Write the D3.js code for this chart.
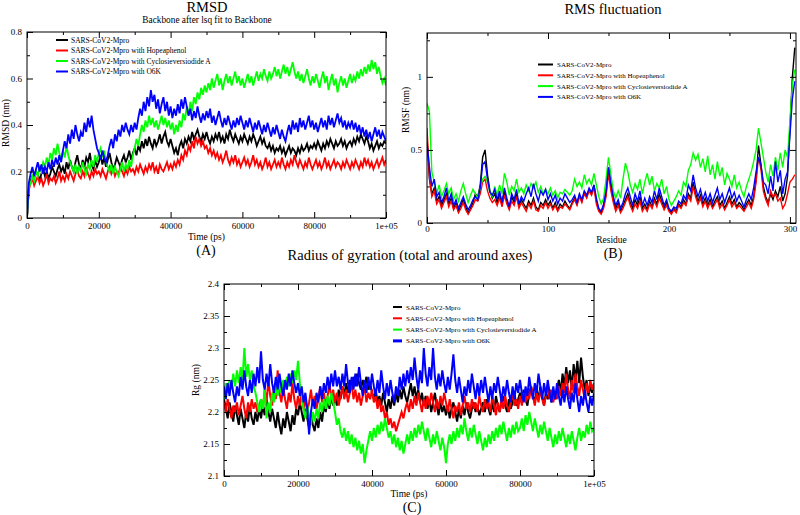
<!DOCTYPE html>
<html><head><meta charset="utf-8">
<script src="https://cdn.jsdelivr.net/npm/d3@7"></script>
<style>
body{margin:0;background:#fff}
text{font-family:'Liberation Serif','Times New Roman',serif !important;fill:#000}
</style>
</head><body>
<svg id="chart" width="800" height="515"></svg>
<script>
// ---------- shared ----------
const seriesNames = ["SARS-CoV2-Mpro","SARS-CoV2-Mpro with Hopeaphenol","SARS-CoV2-Mpro with Cyclosieversiodide A","SARS-CoV2-Mpro with O6K"];
const seriesColors = ["#000000","#ff0000","#00ff00","#0000ff"];
const timePs = d3.range(0, 100001, 500);
const timeTicks = [0,20000,40000,60000,80000,100000];
const timeTickLabels = ["0","20000","40000","60000","80000","1e+05"];
const timeMinor = [10000,30000,50000,70000,90000];

// ---------- (A) RMSD (nm) ----------
const rmsdMpro = [
0,0.13,0.16,0.18,0.17,0.2,0.19,0.16,0.19,0.21,
0.18,0.2,0.17,0.19,0.22,0.2,0.18,0.21,0.23,0.2,
0.22,0.19,0.24,0.21,0.25,0.22,0.2,0.24,0.27,0.23,
0.21,0.25,0.22,0.26,0.24,0.28,0.23,0.21,0.25,0.22,
0.24,0.27,0.23,0.26,0.22,0.25,0.28,0.24,0.21,0.23,
0.26,0.24,0.22,0.25,0.27,0.24,0.26,0.29,0.25,0.28,
0.3,0.27,0.31,0.29,0.33,0.3,0.34,0.31,0.35,0.32,
0.3,0.34,0.31,0.33,0.36,0.32,0.35,0.37,0.33,0.31,
0.34,0.31,0.28,0.3,0.27,0.31,0.33,0.3,0.34,0.32,
0.35,0.33,0.37,0.34,0.36,0.38,0.35,0.33,0.36,0.34,
0.37,0.34,0.32,0.35,0.33,0.36,0.34,0.37,0.33,0.35,
0.32,0.36,0.34,0.38,0.35,0.33,0.36,0.34,0.32,0.35,
0.33,0.36,0.34,0.32,0.35,0.33,0.36,0.34,0.31,0.33,
0.35,0.32,0.34,0.31,0.3,0.32,0.29,0.31,0.28,0.3,
0.29,0.31,0.28,0.3,0.27,0.29,0.31,0.28,0.3,0.29,
0.27,0.3,0.28,0.31,0.29,0.3,0.32,0.29,0.31,0.3,
0.32,0.3,0.33,0.31,0.29,0.32,0.3,0.33,0.31,0.34,
0.32,0.3,0.33,0.31,0.32,0.34,0.31,0.33,0.3,0.32,
0.33,0.31,0.34,0.32,0.35,0.33,0.36,0.34,0.32,0.35,
0.33,0.3,0.32,0.29,0.31,0.33,0.3,0.32,0.31,0.33,
0.32];
const rmsdHope = [
0,0.12,0.15,0.17,0.14,0.16,0.18,0.15,0.17,0.14,
0.16,0.19,0.15,0.17,0.16,0.18,0.15,0.17,0.2,0.16,
0.18,0.16,0.19,0.17,0.2,0.18,0.16,0.19,0.21,0.18,
0.17,0.2,0.18,0.22,0.19,0.17,0.2,0.18,0.21,0.19,
0.2,0.18,0.21,0.19,0.17,0.2,0.22,0.19,0.21,0.18,
0.2,0.19,0.22,0.2,0.18,0.21,0.19,0.22,0.2,0.21,
0.19,0.22,0.2,0.23,0.21,0.19,0.22,0.2,0.23,0.21,
0.24,0.2,0.22,0.19,0.23,0.21,0.2,0.22,0.24,0.21,
0.23,0.21,0.24,0.22,0.25,0.23,0.27,0.25,0.29,0.27,
0.31,0.29,0.33,0.3,0.35,0.32,0.34,0.31,0.33,0.3,
0.31,0.28,0.3,0.27,0.29,0.26,0.28,0.25,0.27,0.24,
0.26,0.29,0.25,0.23,0.26,0.24,0.27,0.23,0.25,0.22,
0.24,0.26,0.23,0.25,0.22,0.24,0.27,0.23,0.25,0.22,
0.24,0.21,0.23,0.26,0.22,0.24,0.21,0.23,0.25,0.22,
0.24,0.22,0.26,0.23,0.21,0.24,0.22,0.25,0.23,0.27,
0.24,0.22,0.25,0.23,0.21,0.24,0.22,0.26,0.23,0.21,
0.23,0.25,0.22,0.24,0.21,0.23,0.26,0.22,0.24,0.21,
0.23,0.25,0.22,0.24,0.23,0.21,0.24,0.22,0.25,0.23,
0.21,0.24,0.22,0.25,0.23,0.21,0.24,0.22,0.26,0.23,
0.25,0.22,0.24,0.21,0.23,0.25,0.22,0.24,0.26,0.23,
0.25];
const rmsdCyclo = [
0,0.13,0.15,0.18,0.16,0.2,0.18,0.22,0.2,0.24,
0.22,0.26,0.23,0.28,0.25,0.3,0.27,0.32,0.28,0.25,
0.29,0.26,0.31,0.27,0.24,0.22,0.2,0.23,0.19,0.22,
0.2,0.24,0.21,0.19,0.23,0.21,0.25,0.22,0.27,0.24,
0.28,0.3,0.26,0.29,0.24,0.22,0.2,0.23,0.19,0.22,
0.2,0.18,0.21,0.24,0.2,0.23,0.21,0.25,0.22,0.27,
0.3,0.34,0.31,0.36,0.4,0.37,0.42,0.39,0.44,0.4,
0.43,0.39,0.42,0.38,0.41,0.44,0.4,0.43,0.39,0.42,
0.38,0.41,0.36,0.4,0.37,0.42,0.39,0.45,0.42,0.48,
0.44,0.5,0.46,0.52,0.49,0.54,0.51,0.56,0.53,0.57,
0.54,0.58,0.55,0.6,0.56,0.59,0.62,0.57,0.6,0.55,
0.59,0.62,0.58,0.61,0.57,0.6,0.63,0.58,0.61,0.57,
0.6,0.56,0.59,0.62,0.58,0.61,0.57,0.6,0.63,0.59,
0.62,0.6,0.64,0.61,0.59,0.63,0.6,0.62,0.65,0.61,
0.64,0.6,0.63,0.66,0.62,0.65,0.61,0.64,0.67,0.63,
0.6,0.63,0.59,0.62,0.58,0.61,0.64,0.6,0.57,0.61,
0.58,0.62,0.59,0.56,0.6,0.63,0.58,0.61,0.55,0.59,
0.62,0.57,0.6,0.54,0.58,0.61,0.57,0.6,0.56,0.59,
0.62,0.58,0.61,0.59,0.63,0.6,0.64,0.61,0.65,0.62,
0.66,0.63,0.68,0.64,0.67,0.62,0.65,0.61,0.58,0.6,
0.57];
const rmsdO6K = [
0,0.15,0.19,0.22,0.18,0.21,0.24,0.2,0.23,0.19,
0.22,0.2,0.24,0.21,0.25,0.22,0.26,0.23,0.27,0.24,
0.29,0.33,0.3,0.36,0.32,0.38,0.34,0.4,0.36,0.33,
0.37,0.35,0.41,0.37,0.43,0.39,0.44,0.38,0.34,0.3,
0.28,0.25,0.29,0.26,0.24,0.27,0.31,0.34,0.3,0.36,
0.33,0.38,0.35,0.4,0.37,0.41,0.38,0.36,0.4,0.37,
0.41,0.38,0.43,0.47,0.44,0.5,0.46,0.52,0.48,0.55,
0.5,0.53,0.47,0.51,0.45,0.49,0.52,0.46,0.5,0.44,
0.48,0.43,0.47,0.44,0.49,0.45,0.51,0.47,0.52,0.48,
0.44,0.47,0.42,0.46,0.43,0.48,0.44,0.41,0.45,0.42,
0.46,0.43,0.47,0.41,0.44,0.4,0.43,0.46,0.42,0.39,
0.43,0.4,0.44,0.41,0.38,0.42,0.39,0.43,0.4,0.44,
0.41,0.38,0.42,0.39,0.43,0.4,0.37,0.41,0.38,0.42,
0.39,0.36,0.4,0.37,0.41,0.38,0.35,0.39,0.36,0.4,
0.37,0.34,0.38,0.35,0.33,0.37,0.4,0.36,0.42,0.38,
0.41,0.37,0.43,0.39,0.42,0.38,0.41,0.44,0.39,0.42,
0.38,0.41,0.37,0.4,0.43,0.39,0.42,0.38,0.44,0.4,
0.43,0.39,0.42,0.45,0.41,0.43,0.39,0.42,0.38,0.41,
0.39,0.42,0.38,0.41,0.37,0.4,0.36,0.39,0.35,0.38,
0.34,0.37,0.33,0.36,0.39,0.35,0.38,0.34,0.37,0.35,
0.33];
const rmsdTicks = [0,0.2,0.4,0.6,0.8];
const rmsdTickLabels = ["0","0.2","0.4","0.6","0.8"];
const rmsdMinor = [0.1,0.3,0.5,0.7];

// ---------- (B) RMSF (nm) per residue ----------
const residues = d3.range(0, 305, 2);
const rmsfMpro = [
0.58,0.3,0.2,0.24,0.15,0.18,0.12,0.16,0.2,0.13,
0.17,0.1,0.14,0.08,0.12,0.16,0.11,0.07,0.1,0.14,
0.2,0.18,0.26,0.45,0.5,0.33,0.22,0.17,0.2,0.14,
0.2,0.13,0.22,0.15,0.1,0.18,0.14,0.2,0.12,0.16,
0.13,0.1,0.15,0.12,0.17,0.11,0.09,0.14,0.12,0.16,
0.12,0.15,0.1,0.14,0.09,0.13,0.11,0.15,0.12,0.1,
0.14,0.17,0.13,0.19,0.15,0.21,0.18,0.23,0.2,0.26,
0.15,0.09,0.07,0.12,0.2,0.38,0.25,0.16,0.1,0.14,
0.08,0.12,0.16,0.2,0.14,0.1,0.16,0.12,0.18,0.1,
0.13,0.09,0.15,0.11,0.17,0.13,0.2,0.15,0.1,0.14,
0.09,0.07,0.1,0.08,0.13,0.11,0.16,0.13,0.2,0.17,
0.28,0.2,0.15,0.19,0.13,0.17,0.12,0.16,0.11,0.15,
0.18,0.12,0.15,0.1,0.14,0.18,0.13,0.16,0.11,0.14,
0.12,0.09,0.13,0.16,0.12,0.18,0.3,0.53,0.4,0.25,
0.18,0.14,0.2,0.16,0.22,0.18,0.25,0.15,0.2,0.32,0.65,1.0,1.2];
const rmsfHope = [
0.65,0.32,0.18,0.22,0.13,0.16,0.1,0.14,0.18,0.11,
0.15,0.09,0.12,0.07,0.1,0.14,0.09,0.06,0.09,0.12,
0.16,0.15,0.2,0.28,0.3,0.22,0.17,0.14,0.16,0.12,
0.17,0.11,0.19,0.13,0.09,0.15,0.12,0.18,0.1,0.14,
0.11,0.08,0.13,0.1,0.15,0.09,0.08,0.12,0.1,0.14,
0.1,0.13,0.09,0.12,0.08,0.11,0.1,0.13,0.11,0.09,
0.13,0.16,0.12,0.18,0.14,0.2,0.17,0.22,0.19,0.24,
0.13,0.08,0.06,0.1,0.18,0.34,0.22,0.14,0.08,0.12,
0.07,0.1,0.14,0.18,0.12,0.08,0.13,0.1,0.15,0.08,
0.11,0.08,0.13,0.1,0.15,0.11,0.17,0.13,0.09,0.12,
0.08,0.06,0.09,0.07,0.12,0.1,0.14,0.12,0.18,0.15,
0.25,0.18,0.13,0.17,0.11,0.15,0.1,0.14,0.1,0.13,
0.16,0.1,0.13,0.09,0.12,0.16,0.11,0.14,0.1,0.12,
0.1,0.08,0.11,0.14,0.1,0.16,0.28,0.45,0.37,0.22,
0.16,0.12,0.22,0.18,0.2,0.15,0.17,0.1,0.13,0.2,0.28,0.3,0.33];
const rmsfCyclo = [
0.82,0.76,0.35,0.28,0.2,0.26,0.18,0.22,0.27,0.2,
0.24,0.16,0.2,0.15,0.22,0.27,0.2,0.14,0.19,0.23,
0.2,0.17,0.24,0.3,0.32,0.28,0.21,0.18,0.25,0.19,
0.26,0.2,0.34,0.28,0.19,0.25,0.22,0.3,0.21,0.24,
0.2,0.26,0.22,0.27,0.24,0.28,0.21,0.25,0.2,0.23,
0.2,0.24,0.19,0.22,0.17,0.21,0.2,0.23,0.21,0.19,
0.22,0.3,0.25,0.28,0.24,0.33,0.27,0.3,0.26,0.34,
0.26,0.18,0.13,0.17,0.3,0.45,0.33,0.22,0.17,0.22,
0.17,0.3,0.41,0.35,0.26,0.21,0.27,0.23,0.3,0.2,
0.28,0.34,0.26,0.32,0.22,0.27,0.24,0.3,0.2,0.25,
0.16,0.12,0.15,0.18,0.22,0.19,0.28,0.25,0.36,0.4,
0.48,0.43,0.47,0.38,0.44,0.35,0.46,0.33,0.4,0.3,
0.42,0.32,0.38,0.26,0.34,0.3,0.25,0.33,0.24,0.28,
0.22,0.18,0.25,0.3,0.35,0.42,0.5,0.65,0.55,0.45,
0.35,0.28,0.4,0.32,0.45,0.36,0.48,0.38,0.5,0.45,0.7,0.95,1.05];
const rmsfO6K = [
0.55,0.38,0.25,0.3,0.18,0.21,0.14,0.18,0.24,0.15,
0.2,0.12,0.16,0.1,0.14,0.18,0.13,0.09,0.12,0.16,
0.18,0.16,0.24,0.4,0.42,0.3,0.21,0.19,0.23,0.16,
0.22,0.14,0.24,0.17,0.11,0.2,0.16,0.23,0.13,0.18,
0.15,0.2,0.24,0.18,0.27,0.2,0.15,0.22,0.19,0.23,
0.16,0.2,0.15,0.19,0.13,0.17,0.15,0.2,0.17,0.14,
0.16,0.19,0.14,0.2,0.16,0.22,0.19,0.24,0.21,0.26,
0.17,0.1,0.08,0.13,0.22,0.38,0.27,0.18,0.12,0.16,
0.1,0.14,0.2,0.24,0.18,0.12,0.2,0.15,0.22,0.12,
0.17,0.12,0.18,0.14,0.22,0.16,0.24,0.18,0.12,0.16,
0.1,0.08,0.11,0.1,0.15,0.13,0.19,0.16,0.26,0.22,
0.33,0.24,0.18,0.23,0.16,0.21,0.15,0.2,0.14,0.19,
0.24,0.16,0.2,0.14,0.19,0.24,0.17,0.21,0.15,0.19,
0.15,0.11,0.16,0.2,0.16,0.24,0.35,0.45,0.4,0.28,
0.26,0.2,0.32,0.22,0.42,0.28,0.36,0.2,0.3,0.35,0.6,0.85,0.97];
const residueTicks = [0,100,200,300];
const residueMinor = [50,150,250];
const rmsfTicks = [0,0.5,1];
const rmsfTickLabels = ["0","0.5","1"];
const rmsfMinor = [0.25,0.75,1.25];

// ---------- (C) Rg (nm) ----------
const rgMpro = [
2.22,2.205,2.19,2.215,2.2,2.185,2.21,2.195,2.18,2.205,
2.19,2.175,2.2,2.185,2.21,2.19,2.18,2.2,2.185,2.205,
2.19,2.21,2.195,2.22,2.2,2.185,2.205,2.19,2.175,2.2,
2.18,2.165,2.19,2.175,2.2,2.185,2.17,2.195,2.18,2.205,
2.195,2.215,2.2,2.185,2.205,2.19,2.175,2.195,2.18,2.17,
2.19,2.175,2.2,2.185,2.21,2.2,2.22,2.205,2.225,2.21,
2.225,2.21,2.235,2.22,2.24,2.225,2.245,2.23,2.25,2.235,
2.255,2.24,2.26,2.245,2.235,2.25,2.24,2.255,2.235,2.245,
2.23,2.22,2.235,2.215,2.225,2.21,2.23,2.215,2.2,2.22,
2.205,2.225,2.21,2.23,2.215,2.235,2.22,2.24,2.225,2.215,
2.23,2.245,2.225,2.24,2.22,2.235,2.215,2.23,2.21,2.225,
2.205,2.22,2.2,2.215,2.23,2.21,2.195,2.215,2.2,2.21,
2.195,2.21,2.19,2.205,2.215,2.2,2.185,2.205,2.19,2.21,
2.195,2.215,2.2,2.19,2.205,2.215,2.2,2.21,2.195,2.205,
2.215,2.2,2.22,2.205,2.195,2.215,2.2,2.225,2.21,2.2,
2.215,2.225,2.21,2.2,2.22,2.205,2.215,2.23,2.21,2.22,
2.23,2.215,2.235,2.22,2.21,2.23,2.24,2.225,2.215,2.235,
2.22,2.24,2.225,2.21,2.23,2.22,2.235,2.215,2.23,2.22,
2.235,2.25,2.23,2.26,2.24,2.27,2.245,2.265,2.235,2.275,
2.25,2.28,2.245,2.285,2.255,2.235,2.25,2.225,2.24,2.23,
2.245];
const rgHope = [
2.215,2.2,2.22,2.205,2.19,2.21,2.2,2.215,2.195,2.21,
2.225,2.205,2.19,2.215,2.2,2.22,2.205,2.215,2.2,2.21,
2.22,2.205,2.235,2.215,2.25,2.225,2.21,2.24,2.22,2.265,
2.23,2.215,2.24,2.22,2.205,2.23,2.215,2.245,2.22,2.205,
2.225,2.21,2.23,2.205,2.22,2.2,2.215,2.235,2.21,2.225,
2.205,2.22,2.24,2.215,2.23,2.21,2.225,2.245,2.22,2.235,
2.215,2.23,2.21,2.225,2.24,2.22,2.235,2.215,2.23,2.245,
2.22,2.235,2.215,2.23,2.21,2.225,2.24,2.215,2.23,2.22,
2.235,2.215,2.225,2.205,2.22,2.2,2.21,2.19,2.2,2.18,
2.19,2.175,2.185,2.17,2.18,2.19,2.2,2.19,2.205,2.215,
2.2,2.22,2.205,2.225,2.21,2.23,2.215,2.2,2.22,2.205,
2.225,2.21,2.23,2.215,2.2,2.22,2.205,2.225,2.21,2.23,
2.215,2.2,2.22,2.205,2.19,2.21,2.2,2.215,2.195,2.21,
2.225,2.205,2.215,2.2,2.22,2.205,2.215,2.2,2.225,2.21,
2.2,2.22,2.205,2.215,2.2,2.225,2.21,2.195,2.215,2.2,
2.22,2.205,2.225,2.21,2.2,2.215,2.23,2.21,2.22,2.205,
2.225,2.21,2.23,2.215,2.235,2.22,2.24,2.225,2.21,2.23,
2.215,2.235,2.22,2.21,2.225,2.24,2.22,2.235,2.215,2.23,
2.22,2.24,2.225,2.245,2.23,2.26,2.235,2.22,2.25,2.23,
2.26,2.24,2.225,2.25,2.235,2.22,2.245,2.23,2.25,2.235,
2.245];
const rgCyclo = [
2.22,2.245,2.23,2.25,2.235,2.26,2.24,2.265,2.245,2.27,
2.25,2.3,2.255,2.275,2.25,2.265,2.24,2.23,2.215,2.2,
2.22,2.205,2.235,2.19,2.215,2.2,2.23,2.215,2.24,2.225,
2.245,2.23,2.25,2.235,2.255,2.24,2.26,2.245,2.265,2.25,
2.28,2.245,2.225,2.205,2.19,2.21,2.195,2.18,2.2,2.185,
2.205,2.19,2.215,2.2,2.22,2.205,2.225,2.21,2.23,2.215,
2.2,2.18,2.19,2.17,2.16,2.175,2.155,2.17,2.15,2.165,
2.145,2.16,2.14,2.155,2.135,2.15,2.12,2.14,2.155,2.17,
2.155,2.175,2.16,2.18,2.165,2.185,2.17,2.19,2.175,2.16,
2.17,2.15,2.165,2.145,2.16,2.14,2.155,2.135,2.15,2.165,
2.15,2.17,2.155,2.175,2.16,2.18,2.165,2.185,2.17,2.155,
2.175,2.16,2.145,2.165,2.15,2.17,2.155,2.14,2.16,2.145,
2.12,2.15,2.165,2.15,2.17,2.155,2.175,2.16,2.18,2.165,
2.19,2.17,2.155,2.175,2.16,2.18,2.165,2.15,2.17,2.155,
2.14,2.16,2.145,2.165,2.15,2.17,2.155,2.175,2.16,2.18,
2.165,2.185,2.17,2.155,2.175,2.16,2.18,2.165,2.185,2.17,
2.175,2.19,2.17,2.195,2.18,2.2,2.185,2.17,2.19,2.175,
2.16,2.18,2.165,2.185,2.17,2.155,2.175,2.16,2.145,2.165,
2.15,2.17,2.155,2.175,2.16,2.145,2.165,2.15,2.17,2.155,
2.14,2.16,2.175,2.155,2.17,2.16,2.18,2.165,2.185,2.17,
2.175];
const rgO6K = [
2.24,2.22,2.245,2.225,2.25,2.23,2.215,2.24,2.225,2.255,
2.235,2.265,2.24,2.225,2.25,2.23,2.26,2.24,2.27,2.245,
2.295,2.25,2.235,2.26,2.24,2.275,2.245,2.23,2.255,2.235,
2.26,2.24,2.225,2.25,2.235,2.26,2.24,2.265,2.245,2.23,
2.245,2.225,2.24,2.215,2.23,2.205,2.165,2.2,2.22,2.205,
2.23,2.215,2.24,2.22,2.245,2.23,2.255,2.235,2.26,2.24,
2.265,2.24,2.255,2.235,2.26,2.24,2.275,2.245,2.23,2.255,
2.235,2.26,2.24,2.27,2.245,2.225,2.25,2.23,2.255,2.235,
2.26,2.24,2.225,2.25,2.23,2.265,2.24,2.22,2.245,2.225,
2.25,2.23,2.215,2.24,2.225,2.255,2.235,2.26,2.24,2.265,
2.245,2.27,2.25,2.285,2.255,2.235,2.265,2.245,2.3,2.26,
2.24,2.27,2.25,2.3,2.255,2.235,2.26,2.24,2.265,2.245,
2.23,2.255,2.235,2.26,2.29,2.25,2.23,2.255,2.235,2.215,
2.24,2.225,2.25,2.23,2.26,2.24,2.22,2.245,2.225,2.25,
2.23,2.255,2.235,2.215,2.24,2.22,2.245,2.23,2.255,2.235,
2.215,2.24,2.225,2.25,2.23,2.215,2.24,2.22,2.245,2.23,
2.25,2.23,2.215,2.24,2.225,2.255,2.235,2.22,2.245,2.23,
2.26,2.24,2.22,2.245,2.225,2.25,2.23,2.215,2.24,2.22,
2.245,2.225,2.21,2.235,2.215,2.24,2.22,2.205,2.23,2.215,
2.245,2.22,2.2,2.225,2.21,2.235,2.215,2.2,2.225,2.21,
2.23];
const rgTicks = [2.1,2.15,2.2,2.25,2.3,2.35,2.4];
const rgTickLabels = ["2.1","2.15","2.2","2.25","2.3","2.35","2.4"];
const rgMinor = [2.125,2.175,2.225,2.275,2.325,2.375];

// ---------- drawing ----------
const FONT = "'Liberation Serif','Times New Roman',serif";
const svg = d3.select("#chart");
svg.append("rect").attr("width",800).attr("height",515).attr("fill","#fff");

function txt(x, y, s, size, anchor) {
  return svg.append("text").attr("x",x).attr("y",y).attr("text-anchor",anchor||"start")
    .style("font-family",FONT).style("font-size",size+"px").attr("fill","#000").text(s);
}

function panel(cfg) {
  const w = cfg.box[2]-cfg.box[0], h = cfg.box[3]-cfg.box[1];
  const g = svg.append("g").attr("transform",`translate(${cfg.box[0]},${cfg.box[1]})`);
  const x = d3.scaleLinear().domain(cfg.xDomain).range([0,w]);
  const y = d3.scaleLinear().domain(cfg.yDomain).range([h,0]);
  const clipId = "clip"+cfg.id;
  g.append("clipPath").attr("id",clipId).append("rect").attr("width",w).attr("height",h);

  const line = d3.line().x((d,i)=>x(cfg.xs[i])).y(d=>y(d));
  const lg = g.append("g").attr("clip-path",`url(#${clipId})`);
  cfg.series.forEach((s,k)=>{
    lg.append("path").datum(s).attr("d",line).attr("fill","none")
      .attr("stroke",seriesColors[k]).attr("stroke-width",cfg.lw).attr("stroke-linejoin","miter");
  });

  const style = sel => {
    sel.select(".domain").remove();
    sel.selectAll("line").attr("stroke","#000");
    sel.selectAll("text").style("font-family",FONT).style("font-size","9px").attr("fill","#000");
  };
  g.append("g").attr("transform",`translate(0,${h})`)
    .call(d3.axisBottom(x).tickValues(cfg.xTicks).tickFormat((d,i)=>cfg.xLabels[i]).tickSizeInner(-6).tickSizeOuter(0).tickPadding(cfg.xPad)).call(style);
  g.append("g").attr("transform",`translate(0,${h})`)
    .call(d3.axisBottom(x).tickValues(cfg.xMinor).tickFormat("").tickSizeInner(-3).tickSizeOuter(0)).call(style);
  g.append("g").call(d3.axisTop(x).tickValues(cfg.xTicks).tickFormat("").tickSizeInner(-6).tickSizeOuter(0)).call(style);
  g.append("g").call(d3.axisTop(x).tickValues(cfg.xMinor).tickFormat("").tickSizeInner(-3).tickSizeOuter(0)).call(style);
  g.append("g").call(d3.axisLeft(y).tickValues(cfg.yTicks).tickFormat((d,i)=>cfg.yLabels[i]).tickSizeInner(-6).tickSizeOuter(0).tickPadding(5)).call(style);
  g.append("g").call(d3.axisLeft(y).tickValues(cfg.yMinor).tickFormat("").tickSizeInner(-3).tickSizeOuter(0)).call(style);
  g.append("g").attr("transform",`translate(${w},0)`).call(d3.axisRight(y).tickValues(cfg.yTicks).tickFormat("").tickSizeInner(-6).tickSizeOuter(0)).call(style);
  g.append("g").attr("transform",`translate(${w},0)`).call(d3.axisRight(y).tickValues(cfg.yMinor).tickFormat("").tickSizeInner(-3).tickSizeOuter(0)).call(style);
  g.append("rect").attr("width",w).attr("height",h).attr("fill","none").attr("stroke","#000").attr("stroke-width",1);

  // legend
  const L = cfg.legend;
  seriesNames.forEach((n,k)=>{
    const yy = L.y + k*L.dy;
    svg.append("line").attr("x1",L.x).attr("x2",L.x+L.len).attr("y1",yy).attr("y2",yy)
      .attr("stroke",seriesColors[k]).attr("stroke-width", (L.blueThick && k===3)?3:2);
    txt(L.x+L.len+L.gap, yy+2.5, n, L.fs);
  });

  // axis labels, tag, title
  txt(cfg.box[0]+w/2, cfg.xLabelY, cfg.xTitle, 9.5, "middle");
  svg.append("text").attr("transform",`translate(${cfg.yLabelX},${cfg.yLabelCY}) rotate(-90)`).attr("text-anchor","middle")
    .style("font-family",FONT).style("font-size","9.5px").text(cfg.yTitle);
  txt(cfg.tagX, cfg.tagY, cfg.tag, 14, "middle");
  txt(cfg.titleX, cfg.titleY, cfg.title, 14.5, "middle");
}

panel({id:"A", box:[27,32,386,218], xDomain:[0,100000], yDomain:[0,0.8], xs:timePs,
  series:[rmsdMpro,rmsdHope,rmsdCyclo,rmsdO6K], lw:1.8,
  xTicks:timeTicks, xLabels:timeTickLabels, xMinor:timeMinor, xPad:5,
  yTicks:rmsdTicks, yLabels:rmsdTickLabels, yMinor:rmsdMinor,
  legend:{x:56,y:40,dy:10.5,len:12,gap:3,fs:7.5},
  xTitle:"Time (ps)", xLabelY:240, yTitle:"RMSD (nm)", yLabelX:9, yLabelCY:123,
  tag:"(A)", tagX:206, tagY:255, title:"RMSD", titleX:207, titleY:12});
txt(207, 22.5, "Backbone after lsq fit to Backbone", 9.3, "middle");

panel({id:"B", box:[427,33,796,223], xDomain:[0,305], yDomain:[0,1.3], xs:residues,
  series:[rmsfMpro,rmsfHope,rmsfCyclo,rmsfO6K], lw:1.4,
  xTicks:residueTicks, xLabels:residueTicks.map(String), xMinor:residueMinor, xPad:3,
  yTicks:rmsfTicks, yLabels:rmsfTickLabels, yMinor:rmsfMinor,
  legend:{x:538,y:64.5,dy:10.8,len:15,gap:4,fs:7},
  xTitle:"Residue", xLabelY:243, yTitle:"RMSF (nm)", yLabelX:409, yLabelCY:110,
  tag:"(B)", tagX:613, tagY:258, title:"RMS fluctuation", titleX:613, titleY:14});

panel({id:"C", box:[224,284,594,476], xDomain:[0,100000], yDomain:[2.1,2.4], xs:timePs,
  series:[rgMpro,rgHope,rgCyclo,rgO6K], lw:2,
  xTicks:timeTicks, xLabels:timeTickLabels, xMinor:timeMinor, xPad:5,
  yTicks:rgTicks, yLabels:rgTickLabels, yMinor:rgMinor,
  legend:{x:393,y:307,dy:11.3,len:9,gap:4,fs:7,blueThick:true},
  xTitle:"Time (ps)", xLabelY:497, yTitle:"Rg (nm)", yLabelX:199, yLabelCY:380,
  tag:"(C)", tagX:412, tagY:512, title:"Radius of gyration (total and around axes)", titleX:410, titleY:260});
</script>
</body></html>
